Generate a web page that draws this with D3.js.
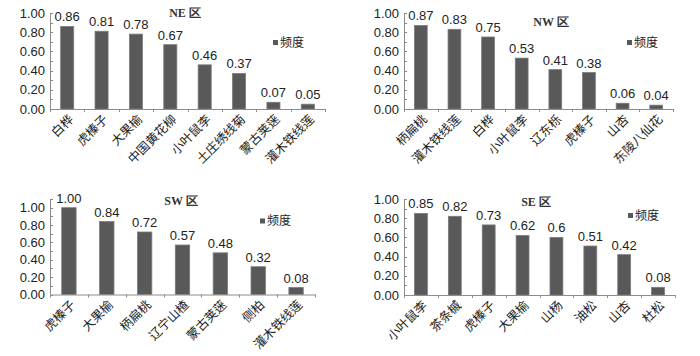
<!DOCTYPE html>
<html><head><meta charset="utf-8">
<script src="https://cdn.jsdelivr.net/npm/d3@7"></script>
<style>body{margin:0;background:#fff}svg{display:block}</style>
</head><body>
<svg id="c" width="700" height="356"></svg>
<script>
const neCats = ["白桦","虎榛子","大果榆","中国黄花柳","小叶鼠李","土庄绣线菊","蒙古荚蒾","灌木铁线莲"];
const neVals = [0.86,0.81,0.78,0.67,0.46,0.37,0.07,0.05];
const nwCats = ["柄扁桃","灌木铁线莲","白桦","小叶鼠李","辽东栎","虎榛子","山杏","东陵八仙花"];
const nwVals = [0.87,0.83,0.75,0.53,0.41,0.38,0.06,0.04];
const swCats = ["虎榛子","大果榆","柄扁桃","辽宁山楂","蒙古荚蒾","侧柏","灌木铁线莲"];
const swVals = [1.00,0.84,0.72,0.57,0.48,0.32,0.08];
const seCats = ["小叶鼠李","茶条槭","虎榛子","大果榆","山杨","油松","山杏","杜松"];
const seVals = [0.85,0.82,0.73,0.62,0.6,0.51,0.42,0.08];
const yTicks = [0,0.2,0.4,0.6,0.8,1.0];
const seriesName = "频度";

const panels = [
  {title:"NE 区", cats:neCats, vals:neVals, x0:50, x1:325, y0:109, y1:13, max:1.0, top:1.0, tx:185, ty:13, lx:273, ly:42.5, fmt:v=>v.toFixed(2)},
  {title:"NW 区", cats:nwCats, vals:nwVals, x0:404, x1:673, y0:109, y1:13, max:1.0, top:1.0, tx:551, ty:22, lx:627, ly:42.5, fmt:v=>v.toFixed(2)},
  {title:"SW 区", cats:swCats, vals:swVals, x0:50, x1:315, y0:294.5, y1:207.7, max:1.0, top:1.1, tx:181, ty:201, lx:260, ly:221, fmt:v=>v.toFixed(2)},
  {title:"SE 区", cats:seCats, vals:seVals, x0:404, x1:675, y0:295, y1:199, max:1.0, top:1.0, tx:536, ty:202, lx:628, ly:215.5, fmt:v=>String(v)}
];

const svg = d3.select("#c");
const numFont = "'Liberation Sans', Arial, sans-serif";
const cjkFont = "'Noto Sans CJK SC', sans-serif";

panels.forEach(p => {
  const g = svg.append("g");
  const y = d3.scaleLinear().domain([0, p.max]).range([p.y0, p.y1]);
  const x = d3.scaleBand().domain(p.cats).range([p.x0, p.x1]).paddingInner(0.62).paddingOuter(0.31);
  const xb = d3.scaleBand().domain(p.cats).range([p.x0, p.x1]);

  g.append("line").attr("x1", p.x0 + 0.5).attr("x2", p.x0 + 0.5).attr("y1", y(p.top)).attr("y2", p.y0)
    .attr("stroke", "#8c8c8c").attr("stroke-width", 1);
  const minor = d3.range(0, p.top + 0.0001, 0.1);
  g.selectAll(".mt").data(minor).join("line")
    .attr("x1", p.x0).attr("x2", p.x0 + 3)
    .attr("y1", d => Math.round(y(d)) + 0.5).attr("y2", d => Math.round(y(d)) + 0.5)
    .attr("stroke", "#8c8c8c").attr("stroke-width", 1);
  g.selectAll(".yl").data(yTicks).join("text")
    .attr("x", p.x0 - 5).attr("y", d => y(d)).attr("dy", "0.36em")
    .attr("text-anchor", "end").attr("font-family", numFont).attr("font-size", 13)
    .attr("fill", "#222").text(d => d.toFixed(2));

  g.selectAll(".bar").data(p.vals).join("rect")
    .attr("x", (d, i) => x(p.cats[i])).attr("width", x.bandwidth())
    .attr("y", d => y(d)).attr("height", d => p.y0 - y(d))
    .attr("fill", "#595959").attr("stroke", "#7a7a7a").attr("stroke-width", 0.8);

  g.append("line").attr("x1", p.x0).attr("x2", p.x1).attr("y1", p.y0 + 0.5).attr("y2", p.y0 + 0.5)
    .attr("stroke", "#8c8c8c").attr("stroke-width", 1);
  const bounds = p.cats.map(c => xb(c)).concat([p.x1]);
  g.selectAll(".xt").data(bounds).join("line")
    .attr("x1", d => Math.round(d) + 0.5).attr("x2", d => Math.round(d) + 0.5)
    .attr("y1", p.y0).attr("y2", p.y0 + 3)
    .attr("stroke", "#8c8c8c").attr("stroke-width", 1);

  g.selectAll(".vl").data(p.vals).join("text")
    .attr("x", (d, i) => x(p.cats[i]) + x.bandwidth() / 2)
    .attr("y", d => y(d) - 5)
    .attr("text-anchor", "middle").attr("font-family", numFont).attr("font-size", 13)
    .attr("fill", "#222").text(d => p.fmt(d));

  g.selectAll(".cl").data(p.cats).join("text")
    .attr("transform", c => `translate(${x(c) + x.bandwidth() / 2 + 4},${p.y0 + 8}) rotate(-45)`)
    .attr("text-anchor", "end").attr("dy", "0.35em")
    .attr("font-family", cjkFont).attr("font-size", 12.5).attr("fill", "#222").text(c => c);

  g.append("text").attr("x", p.tx).attr("y", p.ty).attr("dy", "0.35em")
    .attr("text-anchor", "middle").attr("font-family", "'Liberation Serif', 'Times New Roman', serif")
    .attr("font-weight", "bold").attr("font-size", 12).attr("fill", "#333").text(p.title);

  g.append("rect").attr("x", p.lx).attr("y", p.ly - 2.5).attr("width", 5).attr("height", 5).attr("fill", "#595959");
  g.append("text").attr("x", p.lx + 7).attr("y", p.ly).attr("dy", "0.35em")
    .attr("font-family", cjkFont).attr("font-size", 12).attr("fill", "#222").text(seriesName);
});
</script>
</body></html>
